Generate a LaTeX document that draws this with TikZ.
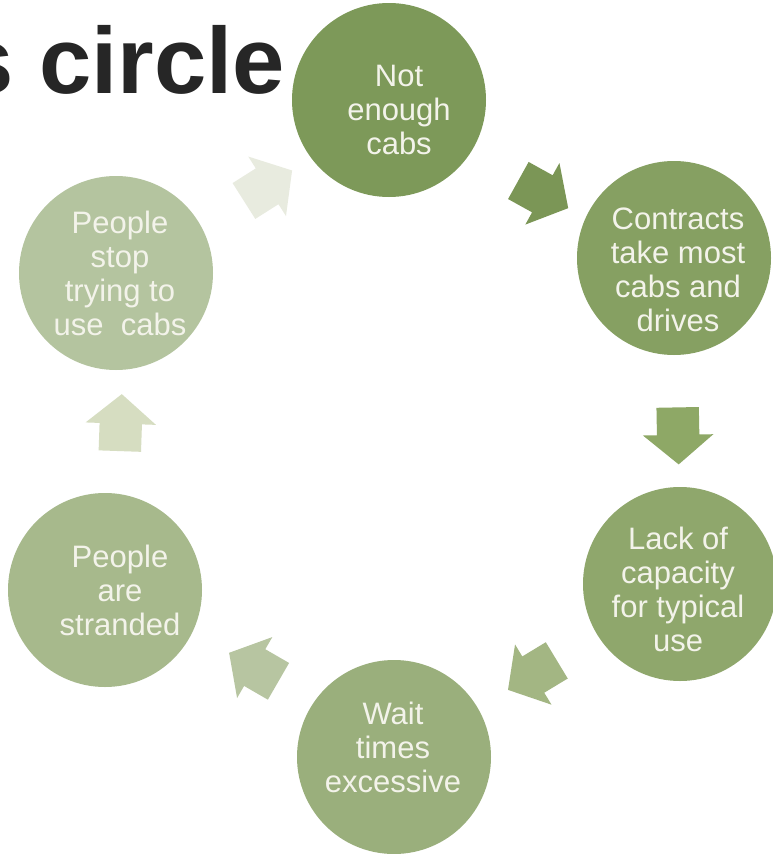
\documentclass[tikz,border=0pt]{standalone}
\usepackage{fontspec}
\setmainfont{Liberation Sans}
\usetikzlibrary{shapes.arrows}
\definecolor{cA}{HTML}{7D9959}
\definecolor{cB}{HTML}{86A062}
\definecolor{cC}{HTML}{8FA76C}
\definecolor{cD}{HTML}{9AAF7C}
\definecolor{cE}{HTML}{A7B98C}
\definecolor{cF}{HTML}{B4C49F}
\definecolor{aA}{HTML}{7B9656}
\definecolor{aB}{HTML}{8EA866}
\definecolor{aC}{HTML}{A3B683}
\definecolor{aD}{HTML}{B7C5A1}
\definecolor{aE}{HTML}{D6DDC1}
\definecolor{aF}{HTML}{E8EBDF}
\definecolor{txtc}{HTML}{F3F3EA}
\definecolor{titlec}{HTML}{262626}
\begin{document}
\begin{tikzpicture}[x=1pt,y=-1pt,
  bubble/.style={circle, minimum size=194pt, inner sep=0pt, draw=none},
  txt/.style={text=txtc, align=center, font=\fontsize{31}{34}\selectfont, inner sep=0pt},
  flow/.style={single arrow, draw=none, minimum height=57pt, minimum width=0pt,
    single arrow head extend=14pt, single arrow tip angle=100,
    inner xsep=0pt, inner ysep=21pt,
    sloped, allow upside down, midway}]
\useasboundingbox (0,0) rectangle (773,854);
\fill[white] (0,0) rectangle (773,854);
\node[anchor=base west, inner sep=0pt, text=titlec,
  font=\bfseries\fontsize{94}{94}\selectfont] (title) at (-39,93) {s circle};
\node[bubble, fill=cA] (A) at (389,100) {};
\node[bubble, fill=cB] (B) at (674,258) {};
\node[bubble, fill=cC] (C) at (680,584) {};
\node[bubble, fill=cD] (D) at (394,757) {};
\node[bubble, fill=cE] (E) at (105,590) {};
\node[bubble, fill=cF] (F) at (116,273) {};
\node[txt] (tA) at (399,110) {Not\\enough\\cabs};
\node[txt] (tB) at (678,270) {Contracts\\take most\\cabs and\\drives};
\node[txt] (tC) at (678,589) {Lack of\\capacity\\for typical\\use};
\node[txt] (tD) at (393,747) {Wait\\times\\excessive};
\node[txt] (tE) at (120,590) {People\\are\\stranded};
\node[txt] (tF) at (120,273) {People\\stop\\trying to\\use~~cabs};
\path ([shift={(4,11)}]A.center) -- ([shift={(4,11)}]B.center) node[flow, fill=aA] (r1) {};
\path ([shift={(1,6)}]B.center) -- ([shift={(1,6)}]C.center) node[flow, fill=aB] (r2) {};
\path ([shift={(3,0)}]C.center) -- ([shift={(3,0)}]D.center) node[flow, fill=aC] (r3) {};
\path ([shift={(12,-2)}]D.center) -- ([shift={(12,-2)}]E.center) node[flow, fill=aD] (r4) {};
\path ([shift={(10,0)}]E.center) -- ([shift={(10,0)}]F.center) node[flow, fill=aE] (r5) {};
\path ([shift={(8,4)}]F.center) -- ([shift={(8,4)}]A.center) node[flow, fill=aF] (r6) {};
\end{tikzpicture}
\end{document}
